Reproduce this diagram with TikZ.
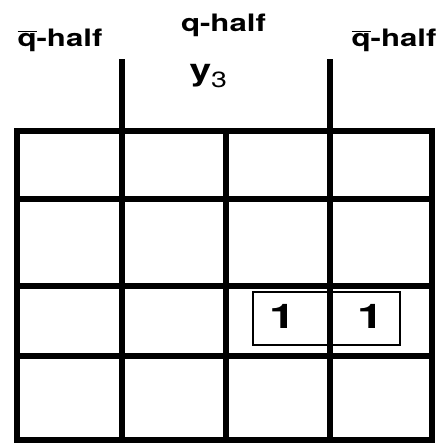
\documentclass[tikz,border=0pt]{standalone}
\usepackage{fontspec}
\setmainfont{TeX Gyre Heros}
\usepackage{tikz}
\usetikzlibrary{positioning}
\definecolor{GridBlack}{RGB}{0,0,0}
\newcommand{\qbar}{$\overline{\hbox{q}}$}

\begin{document}
\begin{tikzpicture}[x=0.5pt, y=0.5pt,
    halflabel/.style={font=\fontsize{12}{12}\selectfont\bfseries, xscale=1.3, transform shape, inner sep=0pt},
    cellone/.style={font=\fontsize{17}{17}\selectfont\bfseries, xscale=1.4, transform shape, inner sep=0pt}]
    \useasboundingbox (0,0) rectangle (443,443);
    \fill[white] (0,0) rectangle (443,443);
    \draw[GridBlack, line width=0.7pt] (253,151) rectangle (400,98);
    \node[cellone] (one-a) at (283,127) {1};
    \node[cellone] (one-b) at (371,127) {1};
    \draw[GridBlack, line width=3pt] (16.5,3) rectangle (431.5,312);
    \foreach \x in {121.5,330} {
        \draw[GridBlack, line width=3pt] (\x,3) -- (\x,384);
    }
    \draw[GridBlack, line width=3pt] (226,3) -- (226,312);
    \foreach \y in {244,157,87} {
        \draw[GridBlack, line width=3pt] (16.5,\y) -- (431.5,\y);
    }
    \node[halflabel, anchor=base west] (qbar-left) at (17,396) {\qbar-half};
    \node[halflabel, anchor=base] (q-mid) at (223.5,411) {q-half};
    \node[halflabel, anchor=base east] (qbar-right) at (437,396) {\qbar-half};
    \node[halflabel, font=\fontsize{15}{15}\selectfont\bfseries, anchor=base west] (y-three) at (189,362)
        {y\raisebox{-3.5pt}{\fontsize{11}{11}\selectfont\mdseries 3}};
\end{tikzpicture}
\end{document}
